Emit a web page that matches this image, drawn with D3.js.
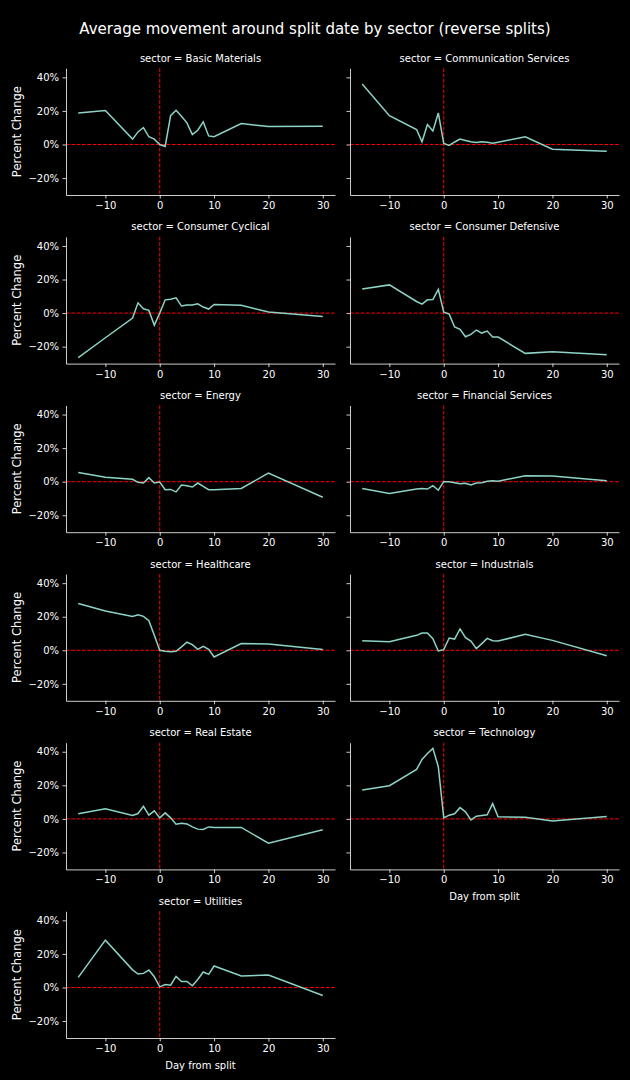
<!DOCTYPE html>
<html lang="en">
<head>
<meta charset="UTF-8">
<script src="https://d3js.org/d3.v7.min.js"></script>
<title>Reverse splits by sector</title>
<style>
  body { margin: 0; background: #000; }
  text { font-family: "DejaVu Sans", sans-serif; fill: #fff; }
</style>
</head>
<body>
<script>
// days relative to the split date
var days = [-15, -10, -5, -4, -3, -2, -1, 0, 1, 2, 3, 4, 5, 6, 7, 8, 9, 10, 15, 20, 30];

// mean percent change per sector, one value per day above
var basicMaterials = [18.8, 20.2, 3.2, 7.5, 10.1, 4.6, 3.2, 0, -1.2, 17.2, 20.4, 16.8, 12.9, 5.9, 8.5, 13.5, 5.1, 4.6, 12.5, 10.7, 10.9];
var communicationServices = [36, 17.2, 8.9, 1.6, 11.9, 8.1, 18.8, 0.6, -0.6, 1.5, 3.2, 2.4, 1.6, 1.2, 1.6, 1.4, 0.8, 1.4, 4.6, -2.8, -4];
var consumerCyclical = [-26.5, -14.7, -3.0, 6.1, 2.6, 1.6, -7.3, 0, 7.9, 8.3, 9.1, 4.2, 4.8, 4.8, 5.5, 3.6, 2.4, 5.1, 4.6, 0.6, -2.0];
var consumerDefensive = [14.3, 16.8, 6.9, 5.3, 7.9, 8.1, 14.1, 0.6, -0.6, -8.3, -9.7, -14.1, -12.7, -10.1, -11.9, -10.7, -14.3, -14.3, -24, -23, -24.8];
var energy = [5.5, 2.6, 1.4, -0.4, -0.8, 2.4, -0.8, -0.2, -4.8, -4.6, -6.1, -2.0, -2.4, -3.2, -0.8, -2.8, -4.8, -4.8, -4.0, 5.1, -9.3];
var financialServices = [-4.0, -7.1, -4.4, -4.0, -4.4, -2.4, -5.1, 0, 0, -0.6, -1.2, -1.0, -2.0, -0.8, -0.6, 0.2, 0.6, 0.2, 3.6, 3.4, 0.6];
var healthcare = [27.9, 23.4, 20.2, 21.2, 20.2, 17.6, 9.0, 0, -0.6, -0.8, -0.6, 2.0, 4.8, 3.4, 0.6, 2.4, 0.6, -4.0, 4.0, 3.8, 0.4];
var industrials = [5.7, 5.1, 8.9, 10.3, 10.3, 6.9, -0.4, 0.4, 7.3, 6.7, 12.7, 7.5, 5.5, 1.0, 4.0, 7.1, 5.7, 5.5, 9.5, 5.9, -3.2];
var realEstate = [3.0, 6.1, 2.0, 3.2, 7.5, 2.2, 4.8, 0.6, 3.6, 0.6, -3.2, -2.6, -3.0, -4.8, -6.1, -6.3, -4.8, -5.1, -5.1, -14.5, -6.5];
var technology = [17.2, 19.8, 29.5, 35.4, 39.0, 42.0, 31.1, 0.6, 2.2, 3.0, 6.7, 4.2, -0.6, 1.6, 2.0, 2.4, 9.1, 1.2, 1.0, -1.2, 1.4];
var utilities = [6.0, 28.2, 10.5, 8.0, 8.4, 10.4, 6.4, 0.4, 1.8, 1.4, 6.6, 3.6, 3.6, 1.0, 4.8, 9.2, 7.8, 12.8, 6.8, 7.4, -4.8];

var sectors = ["Basic Materials", "Communication Services", "Consumer Cyclical", "Consumer Defensive",
               "Energy", "Financial Services", "Healthcare", "Industrials", "Real Estate",
               "Technology", "Utilities"];
var series = [basicMaterials, communicationServices, consumerCyclical, consumerDefensive,
              energy, financialServices, healthcare, industrials, realEstate, technology, utilities];

var xTicks = [-10, 0, 10, 20, 30];
var yTicks = [-20, 0, 20, 40];

var width = 630, height = 1080;
var colLeft = [66, 350], panelW = 269;
var rowTop = 68.3, rowStep = 168.6, panelH = 126.7;
var lineColor = "#8dd3c7";

var svg = d3.select("body").append("svg")
  .attr("width", width)
  .attr("height", height)
  .style("background", "#000");

svg.append("text")
  .attr("x", 315).attr("y", 34)
  .attr("text-anchor", "middle")
  .style("font-size", "15px")
  .text("Average movement around split date by sector (reverse splits)");

var x = d3.scaleLinear().domain([-17.25, 32.25]).range([0, panelW]);
var y = d3.scaleLinear().domain([-30.1, 45.4]).range([panelH, 0]);

function minusFmt(suffix) {
  return function (d) { return (d < 0 ? "\u2212" : "") + Math.abs(d) + suffix; };
}

var line = d3.line()
  .x(function (d) { return x(d[0]); })
  .y(function (d) { return y(d[1]); });

sectors.forEach(function (name, i) {
  var col = i % 2, row = Math.floor(i / 2);
  var g = svg.append("g")
    .attr("transform", "translate(" + colLeft[col] + "," + (rowTop + row * rowStep) + ")");

  // reference lines at day 0 and 0%
  g.append("line")
    .attr("x1", x(0)).attr("x2", x(0)).attr("y1", 0).attr("y2", panelH)
    .attr("stroke", "red").attr("stroke-width", 1).attr("stroke-dasharray", "3.7,1.6");
  g.append("line")
    .attr("x1", 0).attr("x2", panelW).attr("y1", y(0)).attr("y2", y(0))
    .attr("stroke", "red").attr("stroke-width", 1).attr("stroke-dasharray", "3.7,1.6");

  var pts = days.map(function (d, j) { return [d, series[i][j]]; });
  g.append("path")
    .datum(pts)
    .attr("fill", "none")
    .attr("stroke", lineColor)
    .attr("stroke-width", 1.5)
    .attr("d", line);

  var xAxis = g.append("g")
    .attr("transform", "translate(0," + panelH + ")")
    .call(d3.axisBottom(x).tickValues(xTicks).tickFormat(minusFmt(""))
      .tickSizeInner(3.5).tickSizeOuter(0).tickPadding(3.5));

  var yAxis = g.append("g")
    .call(d3.axisLeft(y).tickValues(yTicks)
      .tickFormat(col === 0 ? minusFmt("%") : "")
      .tickSizeInner(3.5).tickSizeOuter(0).tickPadding(3.5));

  [xAxis, yAxis].forEach(function (a) {
    a.select(".domain").attr("stroke", "#fff").attr("stroke-width", 0.8);
    a.selectAll(".tick line").attr("stroke", "#fff").attr("stroke-width", 0.8);
    a.selectAll(".tick text").attr("fill", "#fff")
      .style("font-family", "DejaVu Sans, sans-serif").style("font-size", "10px");
  });

  g.append("text")
    .attr("x", panelW / 2).attr("y", -6.5)
    .attr("text-anchor", "middle")
    .style("font-size", "10px")
    .text("sector = " + name);

  if (col === 0) {
    g.append("text")
      .attr("transform", "translate(" + (16.7 - colLeft[0]) + "," + (panelH / 2) + ") rotate(-90)")
      .attr("text-anchor", "middle")
      .attr("dominant-baseline", "central")
      .style("font-size", "11.5px")
      .text("Percent Change");
  }

  // bottom panel of each column gets the x label
  if (i === sectors.length - 1 || i === sectors.length - 2) {
    g.append("text")
      .attr("x", panelW / 2).attr("y", panelH + 31)
      .attr("text-anchor", "middle")
      .style("font-size", "10px")
      .text("Day from split");
  }
});
</script>
</body>
</html>
